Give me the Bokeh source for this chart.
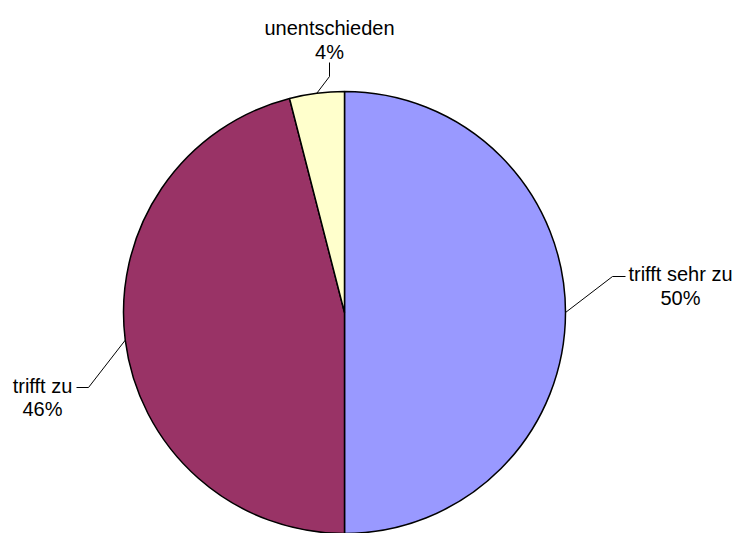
import math
from bokeh.plotting import figure
from bokeh.models import Range1d, ColumnDataSource
from bokeh.core.properties import value
from bokeh.embed import file_html
from bokeh.resources import INLINE

# ---- data ----
categories = ["trifft sehr zu", "trifft zu", "unentschieden"]
shares = [50, 46, 4]
colors = ["#9999FF", "#993366", "#FFFFCC"]

# ---- layout (pixel coordinates, y measured from top) ----
W, H = 736, 533
CX, CY, R = 344, 312, 221
# elbow and end of each leader line, and text centre / baselines
leader_elbow = [(612, 276), (88, 387), (329, 76)]
leader_end = [(625, 276), (76, 387), (329, 62)]
label_x = [680, 42, 329]
label_base1 = [273, 385, 27]
label_base2 = [297, 408, 51]

p = figure(width=W, height=H, output_backend="svg", toolbar_location=None,
           x_range=Range1d(0, W), y_range=Range1d(0, H), min_border=0)
p.axis.visible = False
p.grid.visible = False
p.outline_line_color = None
p.background_fill_color = "white"
p.border_fill_color = "white"

total = float(sum(shares))
starts, ends, mids = [], [], []
a = math.pi / 2
for s in shares:
    sweep = 2 * math.pi * s / total
    starts.append(a)
    ends.append(a - sweep)
    mids.append(a - sweep / 2)
    a -= sweep

src = ColumnDataSource(dict(x=[CX] * len(shares), y=[H - CY] * len(shares),
                            start=starts, end=ends, color=colors))
p.wedge(x="x", y="y", radius=R, start_angle="end", end_angle="start",
        direction="anticlock", fill_color="color", line_color="black",
        line_width=1.5, source=src)

# leader lines
for i, m in enumerate(mids):
    sx = CX + R * math.cos(m)
    sy = (H - CY) + R * math.sin(m)
    ex, ey = leader_elbow[i]
    fx, fy = leader_end[i]
    p.line([sx, ex, fx], [sy, H - ey, H - fy], line_color="black", line_width=1)

# labels
pct = ["%d%%" % s for s in shares]
p.text(x=label_x, y=[H - b for b in label_base1], text=categories,
       text_align="center", text_baseline="alphabetic",
       text_font=value("Liberation Sans"), text_font_size="20px", text_color="black")
p.text(x=label_x, y=[H - b for b in label_base2], text=pct,
       text_align="center", text_baseline="alphabetic",
       text_font=value("Liberation Sans"), text_font_size="20px", text_color="black")

open("out.html", "w").write(file_html(p, INLINE))
